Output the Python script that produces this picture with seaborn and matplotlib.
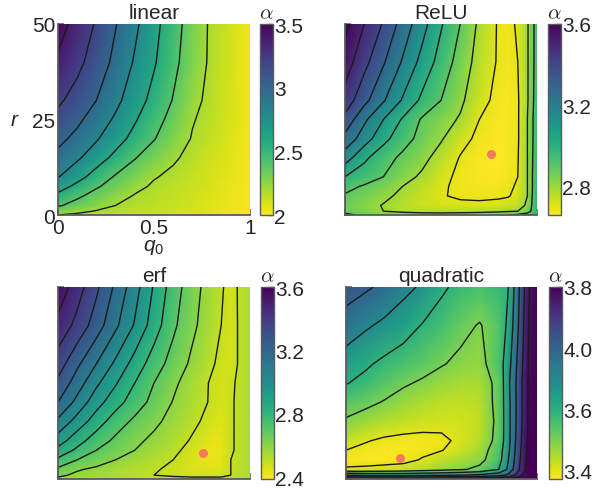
import numpy as np
import matplotlib
matplotlib.use("Agg")
import matplotlib.pyplot as plt
import matplotlib.ticker as ticker
import seaborn as sns

sns.set_theme(style="ticks")
plt.rcParams['font.family'] = ['Liberation Sans', 'DejaVu Sans']
plt.rcParams['mathtext.fontset'] = 'custom'
plt.rcParams['mathtext.it'] = 'Liberation Sans:italic'
plt.rcParams['mathtext.rm'] = 'Liberation Sans'

# --- data: alpha(q0, r), rows follow r_grid (bottom -> top) ---
q0_grid = [0, 0.1, 0.2, 0.3, 0.4, 0.5, 0.6, 0.7, 0.8, 0.85, 0.9, 0.95, 1.0]
r_grid = [0, 1, 2.5, 5, 7.5, 10, 15, 20, 25, 30, 40, 50]

alpha_linear = [
    [2.20, 2.17, 2.15, 2.14, 2.12, 2.11, 2.09, 2.07, 2.05, 2.04, 2.03, 2.02, 2.01],
    [2.30, 2.24, 2.19, 2.17, 2.15, 2.13, 2.11, 2.09, 2.06, 2.05, 2.04, 2.03, 2.02],
    [2.42, 2.34, 2.27, 2.20, 2.17, 2.15, 2.13, 2.10, 2.07, 2.06, 2.04, 2.03, 2.02],
    [2.55, 2.43, 2.34, 2.26, 2.19, 2.16, 2.14, 2.11, 2.08, 2.06, 2.05, 2.03, 2.02],
    [2.69, 2.55, 2.42, 2.33, 2.24, 2.18, 2.15, 2.12, 2.09, 2.07, 2.05, 2.04, 2.02],
    [2.81, 2.67, 2.52, 2.38, 2.30, 2.21, 2.17, 2.13, 2.09, 2.08, 2.06, 2.04, 2.02],
    [2.95, 2.83, 2.69, 2.55, 2.41, 2.31, 2.22, 2.16, 2.11, 2.09, 2.07, 2.04, 2.02],
    [3.05, 2.95, 2.82, 2.68, 2.54, 2.41, 2.29, 2.19, 2.13, 2.10, 2.08, 2.05, 2.02],
    [3.15, 3.04, 2.91, 2.77, 2.62, 2.47, 2.34, 2.21, 2.15, 2.12, 2.09, 2.06, 2.03],
    [3.23, 3.13, 3.00, 2.85, 2.69, 2.54, 2.39, 2.24, 2.16, 2.12, 2.09, 2.06, 2.03],
    [3.37, 3.25, 3.11, 2.95, 2.78, 2.62, 2.45, 2.29, 2.17, 2.13, 2.10, 2.06, 2.03],
    [3.48, 3.33, 3.18, 3.01, 2.84, 2.66, 2.48, 2.31, 2.17, 2.14, 2.10, 2.07, 2.03],
]

alpha_relu = [
    [2.92, 2.88, 2.86, 2.85, 2.84, 2.84, 2.85, 2.86, 2.88, 2.90, 2.92, 2.95, 3.00],
    [2.88, 2.84, 2.80, 2.78, 2.77, 2.765, 2.765, 2.77, 2.78, 2.79, 2.80, 2.85, 2.99],
    [2.87, 2.83, 2.795, 2.76, 2.735, 2.72, 2.715, 2.715, 2.72, 2.73, 2.75, 2.82, 3.00],
    [2.89, 2.86, 2.82, 2.78, 2.74, 2.705, 2.69, 2.685, 2.69, 2.695, 2.72, 2.80, 3.00],
    [2.93, 2.89, 2.85, 2.80, 2.755, 2.71, 2.685, 2.675, 2.675, 2.685, 2.71, 2.80, 2.99],
    [3.00, 2.95, 2.90, 2.835, 2.785, 2.72, 2.685, 2.67, 2.667, 2.675, 2.70, 2.80, 2.99],
    [3.15, 3.02, 2.94, 2.88, 2.83, 2.76, 2.695, 2.67, 2.662, 2.67, 2.695, 2.80, 2.98],
    [3.27, 3.15, 3.03, 2.94, 2.87, 2.81, 2.73, 2.68, 2.665, 2.67, 2.69, 2.80, 2.97],
    [3.37, 3.22, 3.10, 2.99, 2.89, 2.84, 2.79, 2.70, 2.67, 2.668, 2.69, 2.80, 2.97],
    [3.46, 3.33, 3.21, 3.09, 2.98, 2.90, 2.82, 2.73, 2.675, 2.67, 2.69, 2.79, 2.96],
    [3.55, 3.43, 3.31, 3.19, 3.07, 2.96, 2.86, 2.76, 2.69, 2.675, 2.70, 2.79, 2.95],
    [3.63, 3.50, 3.39, 3.26, 3.14, 3.01, 2.90, 2.78, 2.69, 2.68, 2.71, 2.79, 2.95],
]

alpha_erf = [
    [2.58, 2.56, 2.55, 2.54, 2.53, 2.52, 2.52, 2.52, 2.52, 2.52, 2.52, 2.53, 2.54],
    [2.62, 2.58, 2.56, 2.54, 2.52, 2.50, 2.49, 2.48, 2.48, 2.48, 2.50, 2.52, 2.54],
    [2.68, 2.61, 2.58, 2.55, 2.53, 2.51, 2.48, 2.46, 2.45, 2.46, 2.50, 2.52, 2.54],
    [2.78, 2.70, 2.65, 2.60, 2.56, 2.53, 2.50, 2.46, 2.43, 2.44, 2.50, 2.52, 2.54],
    [2.87, 2.78, 2.70, 2.65, 2.60, 2.56, 2.52, 2.47, 2.425, 2.435, 2.49, 2.52, 2.54],
    [2.95, 2.84, 2.75, 2.68, 2.62, 2.58, 2.54, 2.49, 2.44, 2.44, 2.49, 2.52, 2.54],
    [3.08, 2.96, 2.85, 2.75, 2.68, 2.62, 2.57, 2.52, 2.47, 2.455, 2.49, 2.52, 2.54],
    [3.20, 3.07, 2.94, 2.84, 2.75, 2.67, 2.595, 2.54, 2.49, 2.465, 2.49, 2.52, 2.54],
    [3.28, 3.15, 3.02, 2.91, 2.80, 2.70, 2.62, 2.55, 2.49, 2.47, 2.485, 2.52, 2.54],
    [3.35, 3.22, 3.10, 2.98, 2.86, 2.75, 2.66, 2.58, 2.51, 2.48, 2.465, 2.515, 2.54],
    [3.47, 3.37, 3.25, 3.12, 2.99, 2.85, 2.72, 2.62, 2.54, 2.50, 2.465, 2.515, 2.54],
    [3.57, 3.445, 3.32, 3.18, 3.04, 2.89, 2.75, 2.64, 2.55, 2.51, 2.47, 2.515, 2.54],
]

alpha_quad = [
    [3.95, 3.94, 3.93, 3.93, 3.94, 3.95, 3.96, 3.97, 4.00, 4.03, 4.08, 4.15, 4.30],
    [3.70, 3.68, 3.67, 3.67, 3.68, 3.69, 3.70, 3.72, 3.76, 3.82, 3.93, 4.06, 4.28],
    [3.405, 3.41, 3.42, 3.43, 3.45, 3.47, 3.49, 3.52, 3.60, 3.72, 3.88, 4.03, 4.26],
    [3.385, 3.38, 3.377, 3.38, 3.405, 3.43, 3.455, 3.475, 3.56, 3.70, 3.86, 4.02, 4.25],
    [3.40, 3.385, 3.378, 3.378, 3.385, 3.398, 3.42, 3.46, 3.55, 3.68, 3.85, 4.01, 4.24],
    [3.43, 3.405, 3.39, 3.385, 3.385, 3.39, 3.41, 3.44, 3.53, 3.67, 3.84, 4.00, 4.22],
    [3.49, 3.465, 3.445, 3.43, 3.42, 3.415, 3.415, 3.43, 3.525, 3.67, 3.83, 3.99, 4.20],
    [3.54, 3.52, 3.495, 3.47, 3.45, 3.435, 3.43, 3.44, 3.53, 3.67, 3.83, 3.99, 4.19],
    [3.605, 3.575, 3.54, 3.51, 3.49, 3.47, 3.455, 3.455, 3.525, 3.68, 3.83, 3.99, 4.19],
    [3.65, 3.615, 3.58, 3.555, 3.53, 3.505, 3.485, 3.475, 3.55, 3.66, 3.82, 3.98, 4.18],
    [3.76, 3.715, 3.68, 3.64, 3.595, 3.56, 3.52, 3.495, 3.54, 3.62, 3.79, 3.97, 4.17],
    [3.84, 3.815, 3.78, 3.73, 3.685, 3.615, 3.575, 3.555, 3.58, 3.60, 3.77, 3.96, 4.15],
]

titles = ['linear', 'ReLU', 'erf', 'quadratic']
contour_levels = [
    [2.2, 2.4, 2.6, 2.8, 3.0, 3.2, 3.4],
    [2.7, 2.8, 2.9, 3.0, 3.1, 3.2, 3.3, 3.4, 3.5, 3.6],
    [2.5, 2.6, 2.7, 2.8, 2.9, 3.0, 3.1, 3.2, 3.3, 3.4, 3.5],
    [3.4, 3.5, 3.6, 3.7, 3.8, 3.9, 4.0],
]
color_ranges = [(2.0, 3.5), (2.66, 3.6), (2.39, 3.6), (3.373, 4.0)]
cbar_ticks = [[2, 2.5, 3, 3.5], [2.8, 3.2, 3.6], [2.4, 2.8, 3.2, 3.6], [3.4, 3.6, 3.8, 4.0]]
cbar_labels = [['2', '2.5', '3', '3.5'], ['2.8', '3.2', '3.6'],
               ['2.4', '2.8', '3.2', '3.6'], ['3.4', '3.6', '4.0', '3.8']]
cbar_minor = [[], [3.0, 3.4], [2.6, 3.0, 3.4], [3.5, 3.7, 3.9]]
optimum_q0 = [None, 0.76, 0.755, 0.285]
optimum_r = [None, 16.0, 6.7, 5.4]

# --- layout (figure fractions) ---
W, H = 596, 489
ax_rects = [
    [58 / W, 1 - 216 / H, 192 / W, 191 / H],
    [345 / W, 1 - 216 / H, 192 / W, 191 / H],
    [58 / W, 1 - 480 / H, 192 / W, 192 / H],
    [346 / W, 1 - 480 / H, 191 / W, 192 / H],
]
cax_rects = [
    [260 / W, 1 - 216 / H, 13 / W, 191 / H],
    [548 / W, 1 - 216 / H, 13 / W, 191 / H],
    [261 / W, 1 - 480 / H, 13 / W, 192 / H],
    [549 / W, 1 - 480 / H, 13 / W, 192 / H],
]

cmap = sns.color_palette("viridis_r", as_cmap=True)
grey = '#5a5a5a'
dot_color = '#f47c5c'

fig = plt.figure(figsize=(W / 100, H / 100), dpi=100)
Q, R = np.meshgrid(q0_grid, r_grid)

for i, z in enumerate([alpha_linear, alpha_relu, alpha_erf, alpha_quad]):
    Z = np.array(z)
    vmin, vmax = color_ranges[i]
    ax = fig.add_axes(ax_rects[i])
    mesh = ax.pcolormesh(Q, R, Z, shading='gouraud', cmap=cmap, vmin=vmin, vmax=vmax)
    ax.contour(Q, R, Z, levels=contour_levels[i], colors='k', linewidths=1.0)
    if optimum_q0[i] is not None:
        ax.plot(optimum_q0[i], optimum_r[i], 'o', color=dot_color, ms=6.5, mec='none')

    ax.set_xlim(0, 1)
    ax.set_ylim(0, 50)
    sns.despine(ax=ax)
    for s in ['left', 'bottom']:
        ax.spines[s].set_color(grey)
        ax.spines[s].set_linewidth(1.3)
    ax.set_xticks([0, 0.25, 0.5, 0.75, 1])
    ax.set_yticks([0, 12.5, 25, 37.5, 50])
    ax.tick_params(direction='in', length=4.5, width=1.1, color=grey, labelsize=15, pad=2)
    if i == 0:
        ax.set_xticklabels(['0', '', '0.5', '', '1'])
        ax.set_yticklabels(['0', '', '25', '', '50'])
        ax.set_xlabel('$q_0$', fontsize=15, labelpad=0)
        ax.text(-0.225, 0.5, '$r$', transform=ax.transAxes, fontsize=15,
                ha='center', va='center')
    else:
        ax.set_xticklabels([])
        ax.set_yticklabels([])
    ax.set_title(titles[i], fontsize=15, pad=4)

    cax = fig.add_axes(cax_rects[i])
    cb = fig.colorbar(mesh, cax=cax)
    cb.set_ticks(cbar_ticks[i], labels=cbar_labels[i])
    cb.ax.yaxis.set_minor_locator(ticker.FixedLocator(cbar_minor[i]))
    cb.ax.tick_params(which='both', direction='in', length=4, width=1, color=grey,
                      labelsize=15, pad=1)
    cb.outline.set_edgecolor(grey)
    cb.outline.set_linewidth(1.0)
    cax.set_title(r'$\alpha$', fontsize=15, math_fontfamily='cm', pad=4)

fig.savefig('out.png', dpi=100)
